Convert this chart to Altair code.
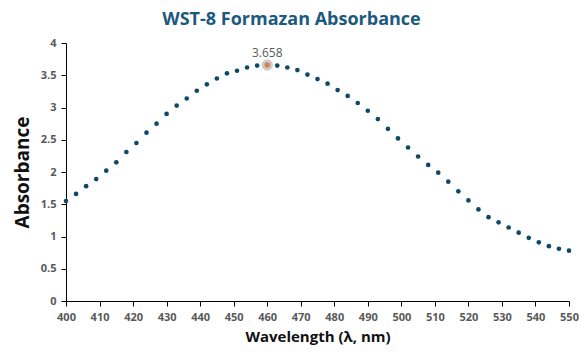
import altair as alt
import pandas as pd

wavelength = list(range(400, 551, 3))
absorbance = [
    1.55, 1.66, 1.78, 1.89, 2.02, 2.15, 2.31, 2.45, 2.61, 2.75,
    2.90, 3.03, 3.14, 3.26, 3.36, 3.45, 3.53, 3.57, 3.62, 3.65,
    3.658, 3.65, 3.62, 3.58, 3.51, 3.44, 3.37, 3.27, 3.18, 3.07,
    2.95, 2.82, 2.67, 2.52, 2.38, 2.24, 2.11, 1.99, 1.85, 1.70,
    1.56, 1.42, 1.30, 1.22, 1.14, 1.06, 0.98, 0.91, 0.85, 0.81,
    0.78,
]
peak_wavelength = [460]
peak_value = [3.658]
peak_label = ["3.658"]

df = pd.DataFrame({"wl": wavelength, "abs": absorbance})
pk = pd.DataFrame({"wl": peak_wavelength, "abs": peak_value, "label": peak_label})

FONT = "Open Sans"

x = alt.X("wl:Q", scale=alt.Scale(domain=[400, 550], nice=False, zero=False),
          axis=alt.Axis(title="Wavelength (λ, nm)", values=list(range(400, 551, 10)),
                        format="d", grid=False, domainColor="black", tickColor="black",
                        labelColor="#595959", labelFontWeight="bold", labelFontSize=11,
                        labelFont=FONT, titleFont=FONT, titleFontSize=15,
                        titleFontWeight="bold", titleColor="#111111", titlePadding=7,
                        tickSize=5, labelPadding=5, labelFlush=False, labelOverlap=False))
y = alt.Y("abs:Q", scale=alt.Scale(domain=[0, 4], nice=False),
          axis=alt.Axis(title="Absorbance", values=[0, 0.5, 1, 1.5, 2, 2.5, 3, 3.5, 4],
                        format="~g", grid=False, domainColor="black", tickColor="black",
                        labelColor="#595959", labelFontWeight="bold", labelFontSize=11,
                        labelFont=FONT, titleFont=FONT, titleFontSize=19,
                        titleFontWeight="bold", titleColor="#111111", titlePadding=8,
                        tickSize=5, labelPadding=5, labelFlush=False, labelOverlap=False))

pts = alt.Chart(df).mark_circle(size=22, color="#0e4a68", opacity=1).encode(x=x, y=y)
halo = alt.Chart(pk).mark_circle(size=130, color="#b8b8b8", opacity=0.7).encode(x=x, y=y)
peak = alt.Chart(pk).mark_circle(size=30, color="#d9844f", opacity=1).encode(x=x, y=y)
lbl = alt.Chart(pk).mark_text(dy=-12, fontSize=12, color="#595959", font=FONT).encode(
    x=x, y=y, text="label:N")

chart = alt.layer(pts, halo, peak, lbl).properties(
    width=503, height=258,
    title=alt.TitleParams("WST-8 Formazan Absorbance", font=FONT, fontSize=18,
                          fontWeight="bold", color="#1b5a7e", dx=-26, offset=8),
    autosize=alt.AutoSizeParams(type="none"),
    padding={"left": 58, "top": 35, "right": 10, "bottom": 48},
).configure_view(stroke=None)

chart.save("out.html", embed_options={"renderer": "svg", "actions": False})
